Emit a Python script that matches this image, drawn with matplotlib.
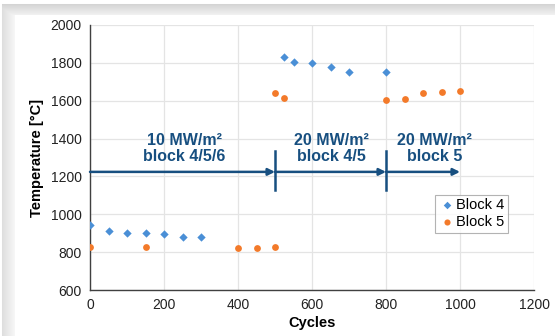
import numpy as np
import matplotlib
matplotlib.use("Agg")
import matplotlib.pyplot as plt

plt.rcParams['font.family'] = ['Liberation Sans', 'DejaVu Sans']

# Data
b4_x = [0, 50, 100, 150, 200, 250, 300, 525, 550, 600, 650, 700, 800]
b4_y = [941, 913, 901, 902, 896, 880, 881, 1833, 1806, 1798, 1777, 1754, 1754]
b5_x = [0, 150, 400, 450, 500, 500, 525, 800, 850, 900, 950, 1000]
b5_y = [827, 827, 823, 821, 825, 1643, 1616, 1606, 1609, 1641, 1645, 1653]

phase_bounds = [0, 500, 800, 1000]
phase_labels = ["10 MW/m²\nblock 4/5/6", "20 MW/m²\nblock 4/5", "20 MW/m²\nblock 5"]
phase_label_x = [255, 652, 931]
arrow_y = 1224
label_y = 1348

xticks = [0, 200, 400, 600, 800, 1000, 1200]
yticks = [600, 800, 1000, 1200, 1400, 1600, 1800, 2000]

W, H = 555, 336
fig = plt.figure(figsize=(W/100, H/100), dpi=100)

# background frame with soft shadow
bg = fig.add_axes([0, 0, 1, 1], zorder=-10)
rows = np.arange(H)[:, None]
cols = np.arange(W)[None, :]
top = np.where((rows >= 4) & (rows < 15), 0.83 + 0.12 * (rows - 4) / 11, 1.0)
left = np.where((cols >= 2) & (cols < 15), 0.87 + 0.1 * (cols - 2) / 13, 1.0)
img = np.minimum(np.broadcast_to(top, (H, W)), np.broadcast_to(left, (H, W)))
img = np.where((rows < 4), 1.0, img)
img = np.where((cols < 2) & (rows >= 4), 1.0, img)
bg.imshow(img, cmap='gray', vmin=0, vmax=1, aspect='auto', interpolation='bilinear')
bg.axis('off')

ax = fig.add_axes([90/W, 1 - 290/H, (534-90)/W, (290-25)/H])
ax.set_xlim(0, 1200)
ax.set_ylim(600, 2000)
ax.set_xticks(xticks)
ax.set_yticks(yticks)
ax.grid(True, color='#e4e4e4', linewidth=0.9)
ax.set_axisbelow(True)
for s in ['top', 'right']:
    ax.spines[s].set_visible(False)
for s in ['left', 'bottom']:
    ax.spines[s].set_color('#404040')
    ax.spines[s].set_linewidth(1.0)
ax.tick_params(length=0, labelsize=10, colors='#222222', pad=6)

ax.scatter(b4_x, b4_y, marker='D', s=18, color='#4a8fd6', label='Block 4', zorder=3, linewidths=0)
ax.scatter(b5_x, b5_y, marker='o', s=24, color='#f37a2a', label='Block 5', zorder=3, linewidths=0)

acol = '#174f80'
for i in range(3):
    x0, x1 = phase_bounds[i], phase_bounds[i+1]
    ax.annotate('', xy=(x1, arrow_y), xytext=(x0, arrow_y),
                arrowprops=dict(arrowstyle='-|>', color=acol, lw=1.8,
                                mutation_scale=10, shrinkA=0, shrinkB=0), zorder=4)
    ax.text(phase_label_x[i], label_y, phase_labels[i], ha='center', va='center',
            fontsize=11.5, fontweight='bold', color=acol, linespacing=1.15, zorder=4)
for xb in phase_bounds[1:3]:
    ax.plot([xb, xb], [1130, 1335], color=acol, lw=1.8, zorder=4)

ax.set_xlabel('Cycles', fontsize=10.5, fontweight='bold', labelpad=3)
ax.set_ylabel('Temperature [°C]', fontsize=10.5, fontweight='bold', labelpad=5)

leg = ax.legend(loc='upper left', bbox_to_anchor=(0.777, 0.36), fontsize=10.5,
                frameon=True, fancybox=False, edgecolor='#a0a0a0',
                handletextpad=0.1, borderpad=0.25, labelspacing=0.2,
                handlelength=1.1, markerscale=0.9, borderaxespad=0)
leg.get_frame().set_linewidth(0.8)

fig.savefig('out.png', dpi=100)
